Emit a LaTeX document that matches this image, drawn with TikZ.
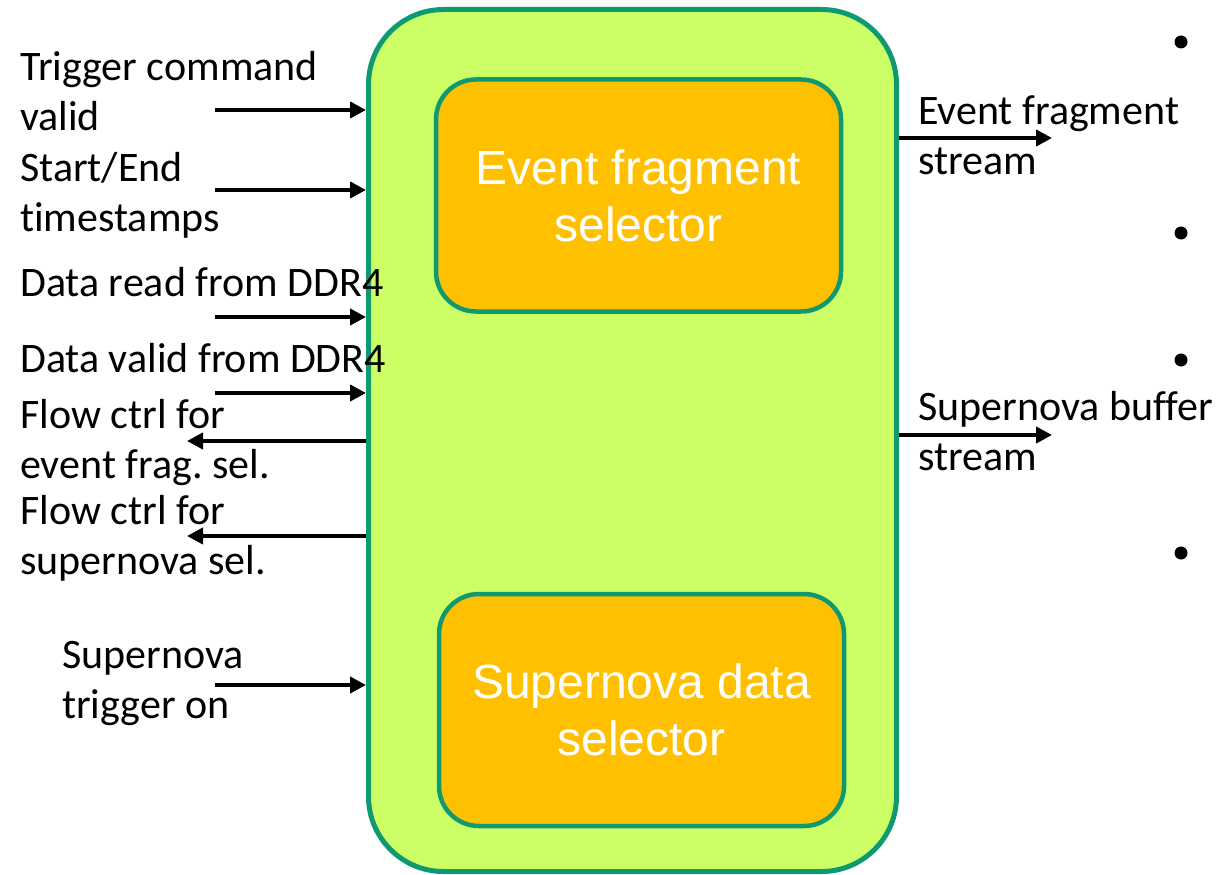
\documentclass[tikz,border=0pt]{standalone}
\usepackage{fontspec}
\setmainfont{Carlito}[Ligatures={NoCommon}]
\newfontfamily\boxfont{Liberation Sans}
\frenchspacing
\usetikzlibrary{arrows.meta}
\definecolor{limefill}{HTML}{CCFF66}
\definecolor{tealline}{HTML}{0F9970}
\definecolor{ambfill}{HTML}{FFC000}
\begin{document}
\begin{tikzpicture}[x=1pt,y=-1pt,
  outerbox/.style={draw=tealline,fill=limefill,line width=5pt,rounded corners=75pt,
    minimum width=528pt,minimum height=862pt,inner sep=0pt},
  selbox/.style={draw=tealline,fill=ambfill,line width=4.5pt,rounded corners=40pt,
    minimum width=405pt,minimum height=232pt,inner sep=0pt,align=center,
    text=white,font=\boxfont\fontsize{48}{57}\selectfont},
  lbl/.style={anchor=base west,inner sep=0pt,align=left,
    font=\fontsize{42}{50}\selectfont},
  sig/.style={line width=4.2pt,-{Triangle[length=16pt,width=16pt]}},
  dot/.style={circle,fill=black,inner sep=0pt,minimum size=13pt}]
\useasboundingbox (0,0) rectangle (1221,875);

% enclosing block and the two selectors
\node[outerbox] (top) at (632.5,440.5) {};
\node[selbox] (efs) at (638.5,195.5) {Event fragment\\selector};
\node[selbox] (sns) at (641.5,710) {Supernova data\\selector};

% signal labels on the left (placed by the baseline of their last line)
\node[lbl] (lt1) at (20,130) {Trigger command\\valid};
\node[lbl] (lt2) at (20,231) {Start/End\\timestamps};
\node[lbl] (lt3) at (20,296) {Data read from DDR4};
\node[lbl] (lt4) at (20,372) {Data valid from DDR4};
\node[lbl] (lt5) at (20,478) {Flow ctrl for\\event frag. sel.};
\node[lbl] (lt6) at (20,574) {Flow ctrl for\\supernova sel.};
\node[lbl] (lt7) at (62,718) {Supernova\\trigger on};

% signal labels on the right
\node[lbl] (rt1) at (918,174) {Event fragment\\stream};
\node[lbl] (rt2) at (918,470) {Supernova buffer\\stream};

% free ends of the connectors
\coordinate (i1) at (215,110);
\coordinate (i2) at (215,190);
\coordinate (i3) at (215,317);
\coordinate (i4) at (215,393);
\coordinate (o5) at (187,441);
\coordinate (o6) at (187,536);
\coordinate (i7) at (215,685);
\coordinate (o8) at (1052,138);
\coordinate (o9) at (1052,435);

% inputs
\draw[sig] (i1) -- (i1 -| top.west);
\draw[sig] (i2) -- (i2 -| top.west);
\draw[sig] (i3) -- (i3 -| top.west);
\draw[sig] (i4) -- (i4 -| top.west);
\draw[sig] (i7) -- (i7 -| top.west);
% flow control outputs
\draw[sig] (o5 -| top.west) -- (o5);
\draw[sig] (o6 -| top.west) -- (o6);
% stream outputs
\draw[sig] (o8 -| top.east) -- (o8);
\draw[sig] (o9 -| top.east) -- (o9);

% bullet marks
\node[dot] (b1) at (1181,42) {};
\node[dot] (b2) at (1181,233) {};
\node[dot] (b3) at (1181,360) {};
\node[dot] (b4) at (1181,553) {};
\end{tikzpicture}
\end{document}
